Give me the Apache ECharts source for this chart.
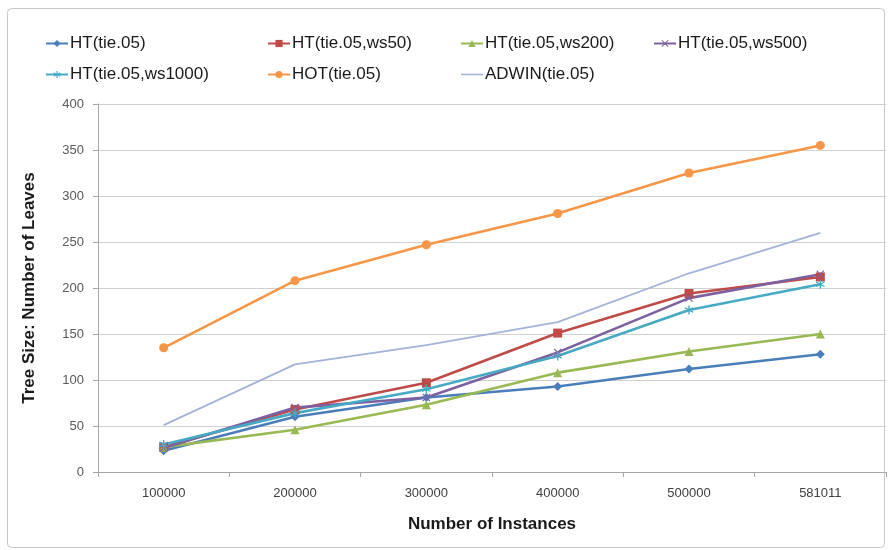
<!DOCTYPE html>
<html>
<head>
<meta charset="utf-8">
<script src="https://cdn.jsdelivr.net/npm/echarts@6/dist/echarts.min.js"></script>
<style>
  html, body { margin: 0; padding: 0; background: #ffffff; }
  #chart { width: 890px; height: 550px; }
</style>
</head>
<body>
<div id="chart"></div>
<script>
// Number of training instances seen (x categories)
const categories = ['100000', '200000', '300000', '400000', '500000', '581011'];

// Tree size (number of leaves) per method
const htTie = [23, 60, 81, 93, 112, 128];
const htWs50 = [27, 68, 97, 151, 194, 212];
const htWs200 = [27, 46, 73, 108, 131, 150];
const htWs500 = [26, 70, 81, 130, 189, 215];
const htWs1000 = [30, 64, 90, 126, 176, 204];
const hotTie = [135, 208, 247, 281, 325, 355];
const adwinTie = [51, 117, 138, 163, 216, 260];

const yTicks = { min: 0, max: 400, interval: 50 };

const FONT = '"Liberation Sans", "DejaVu Sans", sans-serif';

// custom marker shapes: cross and asterisk
const xSymbol = 'path://M1,0 L5,4 L9,0 L10,1 L6,5 L10,9 L9,10 L5,6 L1,10 L0,9 L4,5 L0,1 Z';
const starSymbol = 'path://M4.3,0 H5.7 V3.8 L8.9,1.9 L9.6,3.1 L6.4,5 L9.6,6.9 L8.9,8.1 L5.7,6.2 V10 H4.3 V6.2 L1.1,8.1 L0.4,6.9 L3.6,5 L0.4,3.1 L1.1,1.9 L4.3,3.8 Z';
// plain line legend key (the outer move-tos fix the bounding box to 22x9)
const lineOnlyIcon = 'path://M0,0 M0,3.7 H22 V5.3 H0 Z M22,9';

function lineSeries(name, data, color, symbol, symbolSize, width) {
  return {
    name: name,
    type: 'line',
    data: data,
    symbol: symbol,
    symbolSize: symbolSize,
    showSymbol: symbol !== 'none',
    lineStyle: { color: color, width: width },
    itemStyle: { color: color, borderWidth: 0 },
    emphasis: { disabled: true },
    animation: false
  };
}

const series = [
  lineSeries('HT(tie.05)', htTie, '#4A7EBB', 'diamond', 9, 2.6),
  lineSeries('HT(tie.05,ws50)', htWs50, '#BE4B48', 'rect', 9, 2.6),
  lineSeries('HT(tie.05,ws200)', htWs200, '#98B954', 'triangle', 9, 2.6),
  lineSeries('HT(tie.05,ws500)', htWs500, '#7D60A0', xSymbol, 8, 2.6),
  lineSeries('HT(tie.05,ws1000)', htWs1000, '#46AAC5', starSymbol, 9, 2.6),
  lineSeries('HOT(tie.05)', hotTie, '#F79646', 'circle', 9, 2.6),
  lineSeries('ADWIN(tie.05)', adwinTie, '#A3B3D9', 'none', 0, 1.8)
];

// legend laid out as a grid of columns
function legendColumn(left, names) {
  return {
    left: left,
    top: 30,
    orient: 'vertical',
    itemGap: 14,
    itemWidth: 22,
    itemHeight: 9,
    data: names,
    textStyle: { fontFamily: FONT, fontSize: 17, color: '#1a1a1a', padding: [0, 0, 0, -3] },
    selectedMode: false
  };
}

const chart = echarts.init(document.getElementById('chart'), null, { renderer: 'canvas' });
chart.setOption({
  backgroundColor: '#ffffff',
  animation: false,
  graphic: [{
    type: 'rect',
    shape: { x: 7.5, y: 8.5, width: 877, height: 539, r: 4 },
    style: { fill: 'none', stroke: '#C8C8C8', lineWidth: 1 },
    z: -10
  }],
  legend: [
    legendColumn(40, ['HT(tie.05)', 'HT(tie.05,ws1000)']),
    legendColumn(262, ['HT(tie.05,ws50)', 'HOT(tie.05)']),
    legendColumn(455, ['HT(tie.05,ws200)', { name: 'ADWIN(tie.05)', icon: lineOnlyIcon }]),
    legendColumn(648, ['HT(tie.05,ws500)'])
  ],
  grid: { left: 98, right: 4, top: 104, bottom: 78, containLabel: false },
  xAxis: {
    type: 'category',
    data: categories,
    boundaryGap: true,
    name: 'Number of Instances',
    nameLocation: 'middle',
    nameGap: 44,
    nameTextStyle: { fontFamily: FONT, fontSize: 17, fontWeight: 'bold', color: '#1a1a1a' },
    axisLine: { lineStyle: { color: '#A6A6A6', width: 1 } },
    axisTick: { show: true, length: 5, lineStyle: { color: '#A6A6A6' } },
    axisLabel: { fontFamily: FONT, fontSize: 13, color: '#404040', margin: 15 }
  },
  yAxis: {
    type: 'value',
    min: yTicks.min,
    max: yTicks.max,
    interval: yTicks.interval,
    name: 'Tree Size: Number of Leaves',
    nameLocation: 'middle',
    nameGap: 60,
    nameRotate: 90,
    nameTextStyle: { fontFamily: FONT, fontSize: 17, fontWeight: 'bold', color: '#1a1a1a' },
    axisLine: { show: true, lineStyle: { color: '#A6A6A6', width: 1 } },
    axisTick: { show: true, length: 5, lineStyle: { color: '#A6A6A6' } },
    axisLabel: { fontFamily: FONT, fontSize: 13, color: '#595959', margin: 14 },
    splitLine: { show: true, lineStyle: { color: '#D0D0D0', width: 1.2 } }
  },
  series: series
});
</script>
</body>
</html>
